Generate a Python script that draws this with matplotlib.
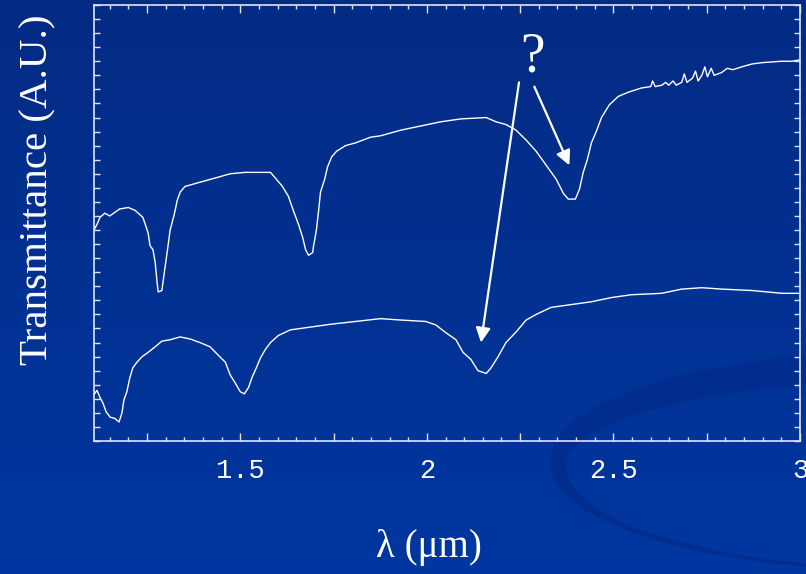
import numpy as np
import matplotlib
matplotlib.use("Agg")
from matplotlib import pyplot as plt
from matplotlib.patches import Polygon
from matplotlib.ticker import MultipleLocator, FuncFormatter

# upper spectrum (wavelength in um, transmittance in arbitrary units)
wl_top = [1.108, 1.116, 1.124, 1.137, 1.150, 1.177, 1.200, 1.218, 1.239, 1.253,
          1.258, 1.266, 1.272, 1.277, 1.280, 1.290, 1.296, 1.304, 1.312, 1.323,
          1.331, 1.339, 1.352, 1.392, 1.433, 1.473, 1.513, 1.581, 1.594, 1.613,
          1.629, 1.642, 1.656, 1.667, 1.675, 1.683, 1.694, 1.696, 1.704, 1.710,
          1.715, 1.726, 1.734, 1.745, 1.758, 1.782, 1.809, 1.849, 1.876, 1.930,
          1.984, 2.038, 2.091, 2.159, 2.185, 2.212, 2.239, 2.266, 2.293, 2.320,
          2.347, 2.366, 2.379, 2.398, 2.409, 2.419, 2.430, 2.441, 2.454, 2.468,
          2.489, 2.513, 2.540, 2.575, 2.600, 2.605, 2.612, 2.630, 2.640, 2.648,
          2.660, 2.668, 2.683, 2.690, 2.697, 2.712, 2.720, 2.727, 2.737, 2.745,
          2.752, 2.762, 2.770, 2.790, 2.805, 2.820, 2.844, 2.870, 2.898, 2.950,
          2.978, 3.000]
tr_top = [15.0, 15.4, 15.9, 16.2, 16.0, 16.5, 16.6, 16.4, 15.9, 14.8,
          13.9, 13.6, 12.7, 11.3, 10.6, 10.7, 11.9, 13.4, 15.0, 16.1,
          17.1, 17.7, 18.1, 18.4, 18.7, 19.0, 19.1, 19.1, 18.7, 18.1,
          17.4, 16.4, 15.4, 14.5, 13.6, 13.2, 13.4, 13.8, 15.0, 16.4,
          17.7, 18.6, 19.5, 20.2, 20.6, 21.0, 21.2, 21.6, 21.7, 22.1,
          22.4, 22.7, 22.9, 23.0, 22.7, 22.5, 22.1, 21.4, 20.6, 19.6,
          18.6, 17.6, 17.2, 17.2, 17.9, 19.1, 20.0, 21.2, 22.0, 23.0,
          23.9, 24.5, 24.8, 25.1, 25.2, 25.6, 25.2, 25.3, 25.5, 25.3,
          25.6, 25.3, 25.5, 26.1, 25.5, 25.8, 26.3, 25.6, 26.0, 26.6,
          25.9, 26.5, 26.0, 26.2, 26.5, 26.4, 26.6, 26.8, 26.9, 27.0,
          27.0, 27.1]

# lower spectrum
wl_low = [1.108, 1.116, 1.124, 1.132, 1.140, 1.151, 1.164, 1.175, 1.183, 1.188,
          1.196, 1.204, 1.212, 1.223, 1.237, 1.253, 1.272, 1.290, 1.312, 1.339,
          1.366, 1.392, 1.419, 1.441, 1.460, 1.473, 1.487, 1.500, 1.511, 1.522,
          1.532, 1.543, 1.554, 1.567, 1.581, 1.602, 1.634, 1.688, 1.742, 1.809,
          1.876, 1.930, 1.997, 2.024, 2.051, 2.078, 2.097, 2.118, 2.137, 2.159,
          2.172, 2.191, 2.212, 2.239, 2.266, 2.293, 2.333, 2.387, 2.441, 2.495,
          2.548, 2.629, 2.683, 2.737, 2.790, 2.871, 2.952, 3.000]
tr_low = [3.3, 3.6, 3.1, 2.7, 2.1, 1.7, 1.6, 1.35, 2.0, 2.9,
          3.5, 4.5, 5.2, 5.6, 6.0, 6.3, 6.7, 7.1, 7.2, 7.4,
          7.25, 7.0, 6.7, 6.1, 5.6, 4.7, 4.1, 3.5, 3.35, 3.8,
          4.55, 5.2, 5.9, 6.5, 7.0, 7.5, 7.9, 8.1, 8.3, 8.5,
          8.7, 8.6, 8.5, 8.25, 7.7, 7.2, 6.3, 5.8, 5.0, 4.8,
          5.2, 6.0, 7.0, 7.75, 8.6, 9.0, 9.5, 9.7, 9.9, 10.2,
          10.4, 10.5, 10.8, 10.9, 10.8, 10.7, 10.5, 10.5]

# "?" annotation: label position and the two arrows
q_pos = (2.284, 27.3)
arrow_tails = [(2.247, 25.5), (2.288, 25.2)]
arrow_tips = [(2.145, 7.0), (2.382, 19.6)]

xtick_labels = {1.5: "1.5", 2.0: "2", 2.5: "2.5", 3.0: "3"}

W, H = 806, 574
fig = plt.figure(figsize=(W / 100, H / 100), dpi=100)

# slide background: vertical gradient plus a faint swoosh (pixel coords)
bg = fig.add_axes([0, 0, 1, 1])
bg.set_xlim(0, W)
bg.set_ylim(H, 0)
bg.axis("off")
top_c = np.array([0x04, 0x2b, 0x84]) / 255
bot_c = np.array([0x00, 0x37, 0xa0]) / 255
t = np.linspace(0, 1, 256)[:, None, None]
grad = top_c * (1 - t) + bot_c * t
bg.imshow(np.repeat(grad, 2, axis=1), extent=[0, W, H, 0], aspect="auto", zorder=0)

th = np.linspace(-1.35, 1.35, 300)
outer = np.column_stack([900 - 350 * np.cos(th),
                         462 + np.where(th < 0, 111, 109) * np.sin(th)])
inner = np.column_stack([910 - 344 * np.cos(th),
                         466 + np.where(th < 0, 85, 102) * np.sin(th)])
swoosh = np.vstack([outer, inner[::-1]])
bg.add_patch(Polygon(swoosh, closed=True, facecolor="#002d8e", edgecolor="none",
                     zorder=1))

ax = fig.add_axes([94 / W, 1 - 441 / H, 706 / W, 436 / H])
ax.patch.set_alpha(0)
ax.plot(wl_top, tr_top, color="white", lw=1.0)
ax.plot(wl_low, tr_low, color="white", lw=1.0)

ax.set_xlim(1.108, 3.0)
ax.set_ylim(0, 31)

for s in ax.spines.values():
    s.set_color("#dfe5f3")
    s.set_linewidth(1.2)

ax.xaxis.set_major_locator(MultipleLocator(0.25))
ax.xaxis.set_minor_locator(MultipleLocator(0.05))
ax.xaxis.set_major_formatter(FuncFormatter(
    lambda v, p: xtick_labels.get(round(v, 2), "")))
ax.yaxis.set_major_locator(MultipleLocator(1))
ax.yaxis.set_major_formatter(FuncFormatter(lambda v, p: ""))
ax.tick_params(axis="x", which="major", direction="in", length=6, width=1,
               color="#dfe5f3", top=True, pad=12, labelsize=19.5,
               labelcolor="white")
ax.tick_params(axis="x", which="minor", direction="in", length=3, width=1,
               color="#dfe5f3", top=True)
ax.tick_params(axis="y", which="major", direction="in", length=4, width=1,
               color="#dfe5f3", right=True)
for lab in ax.get_xticklabels():
    lab.set_fontfamily("Liberation Mono")

ax.text(q_pos[0], q_pos[1], "?", color="white", fontsize=40,
        family="Liberation Serif", ha="center", va="center")
for tail, tip in zip(arrow_tails, arrow_tips):
    ax.annotate("", xy=tip, xytext=tail,
                arrowprops=dict(arrowstyle="-|>", color="white", lw=1.6,
                                mutation_scale=22, shrinkA=0, shrinkB=0))

fig.text(38 / W, 1 - 190 / H, "Transmittance (A.U.)", rotation=90,
         color="white", fontsize=29.5, family="Liberation Serif",
         ha="center", va="center")
fig.text(429 / W, 1 - 548 / H, "λ (μm)", color="white", fontsize=28,
         family="Liberation Serif", ha="center", va="center")

fig.savefig("out.png", dpi=100)
